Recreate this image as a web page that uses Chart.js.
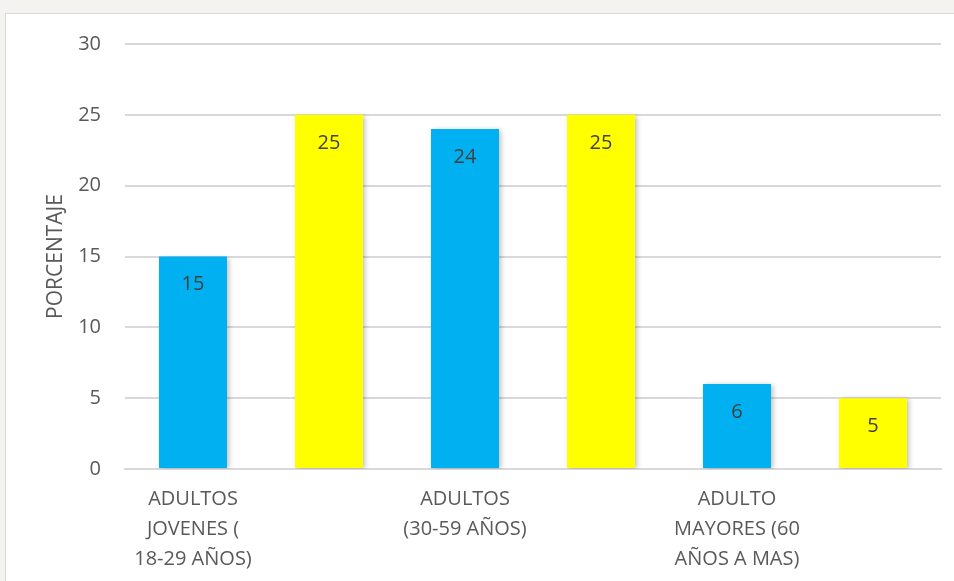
<!DOCTYPE html>
<html>
<head>
<meta charset="utf-8">
<script src="https://cdn.jsdelivr.net/npm/chart.js@4.4.1/dist/chart.umd.min.js"></script>
<style>
  html, body { margin: 0; padding: 0; background: #f4f3ef; }
  #frame {
    position: absolute; left: 5px; top: 13px;
    width: 949px; height: 568px;
    background: #ffffff;
    border-left: 1px solid #d9d9d9; border-top: 1px solid #d9d9d9;
    box-sizing: border-box;
  }
  #wrap {
    position: absolute; left: 6px; top: 8px;
    width: 948px; height: 573px;
  }
</style>
</head>
<body>
<div id="frame"></div>
<div id="wrap"><canvas id="chart"></canvas></div>
<script>
const categories = [
  ['ADULTOS', 'JOVENES (', '18-29 AÑOS)'],
  '',
  ['ADULTOS', '(30-59 AÑOS)'],
  '',
  ['ADULTO', 'MAYORES (60', 'AÑOS A MAS)'],
  ''
]
const values = [15, 25, 24, 25, 6, 5]
const barColors = ['#00b0f0', '#ffff00', '#00b0f0', '#ffff00', '#00b0f0', '#ffff00']
const yTicks = [0, 5, 10, 15, 20, 25, 30]

const textColor = '#595959'
const gridColor = '#d9d9d9'

// value labels inside the top of each bar
const valueLabels = {
  id: 'valueLabels',
  afterDatasetsDraw(chart) {
    const ctx = chart.ctx
    const meta = chart.getDatasetMeta(0)
    ctx.save()
    ctx.font = '20px "Open Sans"'
    ctx.fillStyle = '#404040'
    ctx.textAlign = 'center'
    ctx.textBaseline = 'middle'
    meta.data.forEach((bar, i) => {
      ctx.fillText(String(values[i]), bar.x, bar.y + 28)
    })
    ctx.restore()
  }
}

// soft shadow under the bars
const barShadow = {
  id: 'barShadow',
  beforeDatasetDraw(chart) {
    const ctx = chart.ctx
    ctx.save()
    ctx.shadowColor = 'rgba(0,0,0,0.25)'
    ctx.shadowBlur = 5
    ctx.shadowOffsetX = 2
    ctx.shadowOffsetY = 1
  },
  afterDatasetDraw(chart) {
    chart.ctx.restore()
  }
}

const ctx = document.getElementById('chart').getContext('2d')

new Chart(ctx, {
  type: 'bar',
  data: {
    labels: categories,
    datasets: [{
      data: values,
      backgroundColor: barColors,
      borderWidth: 0,
      categoryPercentage: 1,
      barPercentage: 0.5
    }]
  },
  options: {
    responsive: true,
    maintainAspectRatio: false,
    animation: false,
    layout: {
      padding: { left: 37, top: 14, right: 13, bottom: 0 }
    },
    plugins: {
      legend: { display: false },
      tooltip: { enabled: false }
    },
    scales: {
      x: {
        grid: { display: false, drawTicks: false },
        border: { display: true, color: gridColor, width: 2 },
        ticks: {
          color: textColor,
          font: { family: 'Open Sans', size: 20, lineHeight: 1.5 },
          padding: 15,
          autoSkip: false,
          maxRotation: 0
        },
        afterFit(scale) { scale.height = 112 }
      },
      y: {
        min: 0,
        max: 30,
        afterBuildTicks(scale) {
          scale.ticks = yTicks.map(v => ({ value: v }))
        },
        grid: { color: gridColor, lineWidth: 2, drawTicks: false },
        border: { display: false },
        ticks: {
          color: textColor,
          font: { family: 'Open Sans', size: 20 },
          padding: 24
        },
        title: {
          display: true,
          text: 'PORCENTAJE',
          color: textColor,
          font: { family: 'Open Sans', size: 21 },
          padding: 0
        },
        afterFit(scale) { scale.width = 82 }
      }
    }
  },
  plugins: [barShadow, valueLabels]
})
</script>
</body>
</html>
